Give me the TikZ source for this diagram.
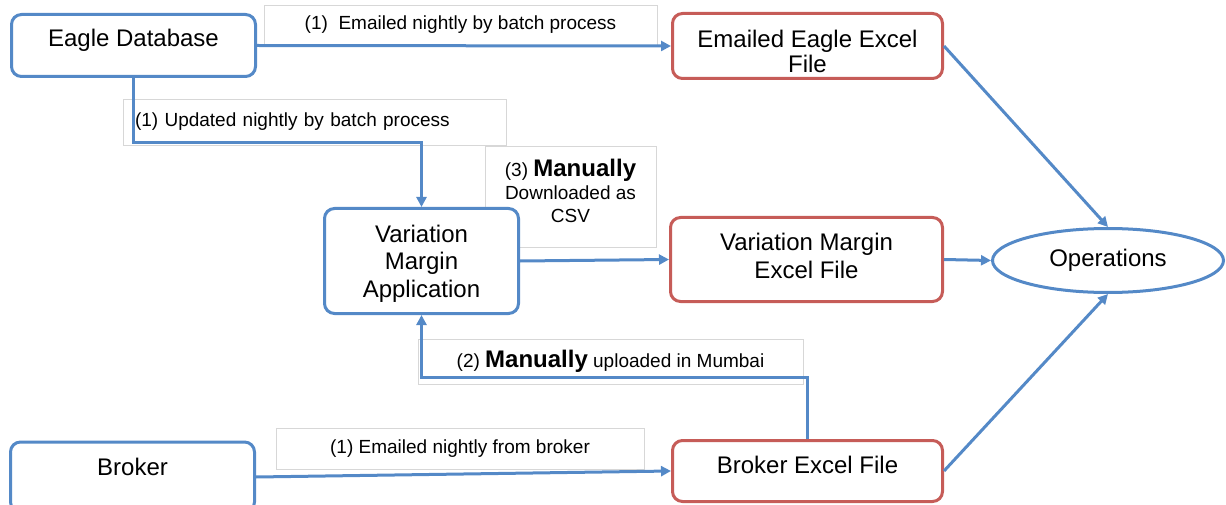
\documentclass[tikz,border=0pt]{standalone}
\usepackage{fontspec}
\setmainfont{Liberation Sans}
\usetikzlibrary{arrows.meta,shapes.geometric}
\definecolor{lblue}{RGB}{84,137,199}
\definecolor{lred}{RGB}{198,92,88}
\definecolor{lgray}{RGB}{215,215,215}
\begin{document}
\begin{tikzpicture}[x=1pt,y=-1pt,
  bluebox/.style={draw=lblue, line width=3pt, rounded corners=10pt, fill=white, inner sep=0pt},
  redbox/.style={bluebox, draw=lred},
  plaintext/.style={inner sep=0pt, align=center, font=\fontsize{24}{28}\selectfont},
  lbl/.style={draw=lgray, line width=0.8pt, fill=white, inner sep=0pt,
    font=\fontsize{19}{23}\selectfont, align=center},
  lbltext/.style={inner sep=0pt, font=\fontsize{19}{23}\selectfont, align=center},
  conn/.style={draw=lblue, line width=3pt, -{Triangle[length=10pt,width=10pt]}}
]
\useasboundingbox (0,0) rectangle (1226,505);

% label boxes (behind)
\node[lbl, minimum width=393, minimum height=40] (l1) at (460.5,25) {(1)~ Emailed nightly by batch process};
\node[lbl, minimum width=383, minimum height=46, text width=359, align=left, inner xsep=12pt] (l2) at (314.5,122) {(1) Updated nightly by batch process};
\node[lbl, minimum width=171, minimum height=101] (l3) at (570.5,196.5) {};
\node[lbltext] (l3text) at (570.5,190.5)
  {(3) {\fontsize{24}{24}\selectfont\bfseries Manually}\\Downloaded as\\CSV};
\node[lbl, minimum width=385, minimum height=45] (l4) at (610.5,361.5)
  {(2) {\fontsize{24}{23}\selectfont\bfseries Manually} uploaded in Mumbai};
\node[lbl, minimum width=368, minimum height=41] (l5) at (460,448.5) {(1) Emailed nightly from broker};

% main nodes
\node[bluebox, minimum width=244, minimum height=62] (eagle) at (133.5,45.5) {};
\node[plaintext] (eagletext) at (133.5,40.5) {Eagle Database};
\node[redbox, minimum width=270, minimum height=65] (eex) at (807.5,46) {};
\node[plaintext, font=\fontsize{24}{25}\selectfont] (eextext) at (807.5,51.5) {Emailed Eagle Excel\\File};
\node[bluebox, minimum width=194, minimum height=105] (vma) at (421.5,261) {};
\node[plaintext, font=\fontsize{24}{27.5}\selectfont] (vmatext) at (421.5,263.5) {Variation\\Margin\\Application};
\node[redbox, minimum width=272, minimum height=84] (vmx) at (806.5,259.5) {};
\node[plaintext] (vmxtext) at (806.5,256) {Variation Margin\\Excel File};
\node[draw=lblue, line width=3pt, ellipse, fill=white, minimum width=231, minimum height=64,
  inner sep=0pt, font=\fontsize{24}{28}\selectfont] (ops) at (1108,260.5) {Operations};
\node[bluebox, minimum width=244, minimum height=70] (broker) at (132.5,477) {};
\node[plaintext] (brokertext) at (132.5,467) {Broker};
\node[redbox, minimum width=270, minimum height=61] (bxl) at (807.5,471) {};
\node[plaintext] (bxltext) at (807.5,465) {Broker Excel File};

\coordinate (m1) at (0,143);
\coordinate (m2) at (0,377);

% connectors
\draw[conn] (eagle.east) -- (eex.west);
\draw[conn] (eagle.south) -- (eagle.south |- m1) -| (vma.north);
\draw[conn] (vma.east) -- (vmx.west);
\draw[conn] (vmx.east) -- (ops.west);
\draw[conn] (eex.east) -- (ops.north);
\draw[conn] (bxl.east) -- (ops.south);
\draw[conn] (bxl.north) -- (bxl.north |- m2) -| (vma.south);
\draw[conn] (broker.east) -- (bxl.west);
\end{tikzpicture}
\end{document}
